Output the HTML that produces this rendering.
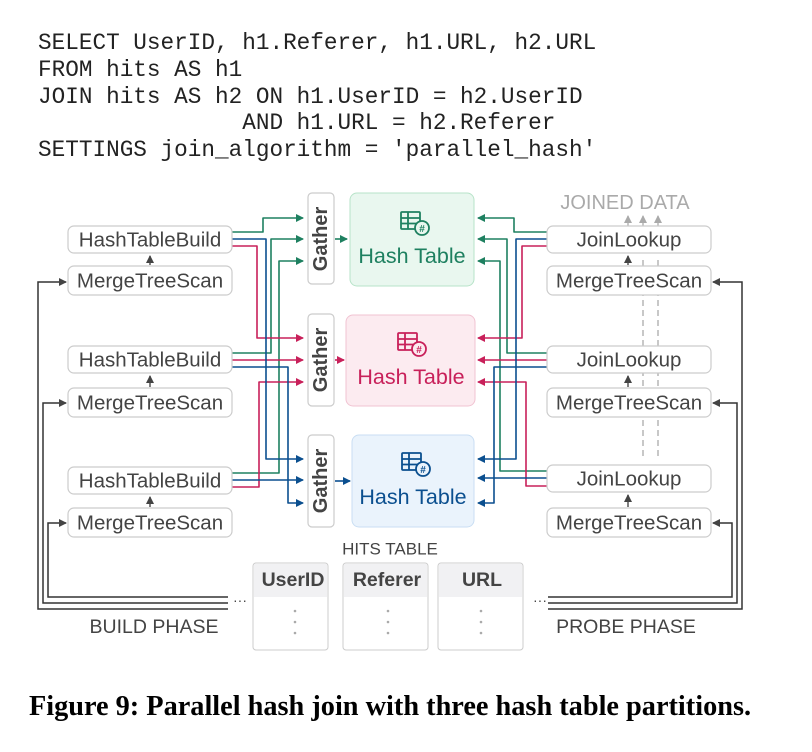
<!DOCTYPE html>
<html><head><meta charset="utf-8"><style>
body{margin:0;background:#fff;width:812px;height:752px;overflow:hidden}
svg{display:block}
.code{font-family:"Liberation Mono",monospace;font-size:22.7px;fill:#222;white-space:pre}
.lb{font-family:"Liberation Sans",sans-serif;font-size:20.5px;fill:#444;text-anchor:middle;dominant-baseline:central}
.box{fill:#fff;stroke:#ccc;stroke-width:1.2}
</style></head><body>
<svg width="812" height="752" viewBox="0 0 812 752" xmlns="http://www.w3.org/2000/svg" xml:space="preserve">
<defs>
<marker id="ag" markerWidth="8" markerHeight="8" refX="7" refY="4" orient="auto" markerUnits="userSpaceOnUse"><path d="M0,0L8,4L0,8z" fill="#1e8060"/></marker>
<marker id="ap" markerWidth="8" markerHeight="8" refX="7" refY="4" orient="auto" markerUnits="userSpaceOnUse"><path d="M0,0L8,4L0,8z" fill="#c8205a"/></marker>
<marker id="ab" markerWidth="8" markerHeight="8" refX="7" refY="4" orient="auto" markerUnits="userSpaceOnUse"><path d="M0,0L8,4L0,8z" fill="#0b4f8f"/></marker>
<marker id="ak" markerWidth="8" markerHeight="8" refX="7" refY="4" orient="auto" markerUnits="userSpaceOnUse"><path d="M0,0L8,4L0,8z" fill="#444"/></marker>
<marker id="ay" markerWidth="8" markerHeight="8" refX="7" refY="4" orient="auto" markerUnits="userSpaceOnUse"><path d="M0,0L8,4L0,8z" fill="#aaa"/></marker>
</defs>
<text class="code" x="38" y="49">SELECT UserID, h1.Referer, h1.URL, h2.URL</text>
<text class="code" x="38" y="76">FROM hits AS h1</text>
<text class="code" x="38" y="103">JOIN hits AS h2 ON h1.UserID = h2.UserID</text>
<text class="code" x="38" y="129">               AND h1.URL = h2.Referer</text>
<text class="code" x="38" y="156">SETTINGS join_algorithm = 'parallel_hash'</text>

<g stroke="#aaa" stroke-width="1.3" fill="none">
<line x1="643" y1="260" x2="643" y2="460" stroke-dasharray="6,4"/>
<line x1="658" y1="260" x2="658" y2="460" stroke-dasharray="6,4"/>
<line x1="628" y1="226" x2="628" y2="216" marker-end="url(#ay)"/>
<line x1="643" y1="226" x2="643" y2="216" marker-end="url(#ay)"/>
<line x1="658" y1="226" x2="658" y2="216" marker-end="url(#ay)"/>
</g>
<text class="lb" x="625" y="203" style="fill:#aaa;font-size:20px">JOINED DATA</text>

<g fill="none" stroke-width="1.6" stroke-linejoin="round">
<path d="M232,232H263V218H303" stroke="#1e8060" marker-end="url(#ag)"/>
<path d="M232,353H271V239H303" stroke="#1e8060" marker-end="url(#ag)"/>
<path d="M232,473H279V261H303" stroke="#1e8060" marker-end="url(#ag)"/>
<path d="M232,246H257V338H303" stroke="#c8205a" marker-end="url(#ap)"/>
<path d="M232,360H303" stroke="#c8205a" marker-end="url(#ap)"/>
<path d="M232,487H259V382H303" stroke="#c8205a" marker-end="url(#ap)"/>
<path d="M232,239H266V459H303" stroke="#0b4f8f" marker-end="url(#ab)"/>
<path d="M232,367H288V503H303" stroke="#0b4f8f" marker-end="url(#ab)"/>
<path d="M232,480H303" stroke="#0b4f8f" marker-end="url(#ab)"/>
<path d="M547,232H514V218H478" stroke="#1e8060" marker-end="url(#ag)"/>
<path d="M547,353H507V239H478" stroke="#1e8060" marker-end="url(#ag)"/>
<path d="M547,471H500V261H478" stroke="#1e8060" marker-end="url(#ag)"/>
<path d="M547,246H522V338H478" stroke="#c8205a" marker-end="url(#ap)"/>
<path d="M547,360H478" stroke="#c8205a" marker-end="url(#ap)"/>
<path d="M547,486H526V382H478" stroke="#c8205a" marker-end="url(#ap)"/>
<path d="M547,239H516V459H478" stroke="#0b4f8f" marker-end="url(#ab)"/>
<path d="M547,367H494V503H478" stroke="#0b4f8f" marker-end="url(#ab)"/>
<path d="M547,478H478" stroke="#0b4f8f" marker-end="url(#ab)"/>
<path d="M335,239H347" stroke="#1e8060" marker-end="url(#ag)"/>
<path d="M335,360H344" stroke="#c8205a" marker-end="url(#ap)"/>
<path d="M335,481H350" stroke="#0b4f8f" marker-end="url(#ab)"/>
</g>

<g fill="none" stroke="#333" stroke-width="1.5">
<path d="M228,609H38V282H66" marker-end="url(#ak)"/>
<path d="M228,603H43V403H66" marker-end="url(#ak)"/>
<path d="M228,597H48V523H66" marker-end="url(#ak)"/>
<path d="M548,597H732V523H713" marker-end="url(#ak)"/>
<path d="M548,603H737V403H713" marker-end="url(#ak)"/>
<path d="M548,609H742V282H713" marker-end="url(#ak)"/>
</g>
<text class="lb" x="240" y="600" style="font-size:14px">···</text>
<text class="lb" x="540" y="600" style="font-size:14px">···</text>

<g stroke="#555" stroke-width="1.5" fill="none">
<line x1="150" y1="265" x2="150" y2="256" marker-end="url(#ak)"/>
<line x1="150" y1="387" x2="150" y2="376" marker-end="url(#ak)"/>
<line x1="150" y1="507" x2="150" y2="497" marker-end="url(#ak)"/>
<line x1="628" y1="265" x2="628" y2="256" marker-end="url(#ak)"/>
<line x1="628" y1="387" x2="628" y2="376" marker-end="url(#ak)"/>
<line x1="628" y1="507" x2="628" y2="495" marker-end="url(#ak)"/>
</g>

<g>
<rect class="box" x="68" y="226" width="164" height="27" rx="6"/><text class="lb" x="150" y="240">HashTableBuild</text>
<rect class="box" x="68" y="266" width="164" height="29" rx="6"/><text class="lb" x="150" y="281">MergeTreeScan</text>
<rect class="box" x="68" y="346" width="164" height="27" rx="6"/><text class="lb" x="150" y="360">HashTableBuild</text>
<rect class="box" x="68" y="388" width="164" height="29" rx="6"/><text class="lb" x="150" y="403">MergeTreeScan</text>
<rect class="box" x="68" y="467" width="164" height="27" rx="6"/><text class="lb" x="150" y="481">HashTableBuild</text>
<rect class="box" x="68" y="508" width="164" height="29" rx="6"/><text class="lb" x="150" y="523">MergeTreeScan</text>
<rect class="box" x="547" y="226" width="164" height="27" rx="6"/><text class="lb" x="629" y="240">JoinLookup</text>
<rect class="box" x="547" y="266" width="164" height="29" rx="6"/><text class="lb" x="629" y="281">MergeTreeScan</text>
<rect class="box" x="547" y="346" width="164" height="27" rx="6"/><text class="lb" x="629" y="360">JoinLookup</text>
<rect class="box" x="547" y="388" width="164" height="29" rx="6"/><text class="lb" x="629" y="403">MergeTreeScan</text>
<rect class="box" x="547" y="465" width="164" height="27" rx="6"/><text class="lb" x="629" y="479">JoinLookup</text>
<rect class="box" x="547" y="508" width="164" height="29" rx="6"/><text class="lb" x="629" y="523">MergeTreeScan</text>
</g>

<g>
<rect class="box" x="308" y="193" width="26" height="91" rx="4"/>
<text class="lb" transform="translate(321,239) rotate(-90)" style="font-weight:bold;font-size:20px">Gather</text>
<rect class="box" x="308" y="314" width="26" height="92" rx="4"/>
<text class="lb" transform="translate(321,360) rotate(-90)" style="font-weight:bold;font-size:20px">Gather</text>
<rect class="box" x="308" y="435" width="26" height="92" rx="4"/>
<text class="lb" transform="translate(321,481) rotate(-90)" style="font-weight:bold;font-size:20px">Gather</text>
</g>

<g>
<rect x="350" y="193" width="124" height="93" rx="7" fill="#e9f7ef" stroke="#b7e3c8"/>
<rect x="346" y="315" width="129" height="91" rx="7" fill="#fcebf0" stroke="#f1c3d2"/>
<rect x="352" y="435" width="122" height="92" rx="7" fill="#eaf3fc" stroke="#c9def3"/>
</g>
<g fill="none" stroke-width="1.8">
<g stroke="#1e8060" transform="translate(401,212)"><rect x="0" y="0" width="19" height="17" rx="1"/><line x1="0" y1="6" x2="19" y2="6"/><line x1="0" y1="11.5" x2="19" y2="11.5"/><line x1="7" y1="0" x2="7" y2="17"/><circle cx="21" cy="16" r="7" fill="#e9f7ef"/></g>
<g stroke="#c8205a" transform="translate(398,333)"><rect x="0" y="0" width="19" height="17" rx="1"/><line x1="0" y1="6" x2="19" y2="6"/><line x1="0" y1="11.5" x2="19" y2="11.5"/><line x1="7" y1="0" x2="7" y2="17"/><circle cx="21" cy="16" r="7" fill="#fcebf0"/></g>
<g stroke="#0b4f8f" transform="translate(402,453)"><rect x="0" y="0" width="19" height="17" rx="1"/><line x1="0" y1="6" x2="19" y2="6"/><line x1="0" y1="11.5" x2="19" y2="11.5"/><line x1="7" y1="0" x2="7" y2="17"/><circle cx="21" cy="16" r="7" fill="#eaf3fc"/></g>
</g>
<g style="font-family:'Liberation Sans',sans-serif;font-size:10px;font-weight:bold;text-anchor:middle">
<text x="422" y="232" fill="#1e8060">#</text><text x="419" y="353" fill="#c8205a">#</text><text x="423" y="473" fill="#0b4f8f">#</text>
</g>
<text class="lb" x="412" y="256" style="fill:#1e8060;font-size:21.5px">Hash Table</text>
<text class="lb" x="411" y="377" style="fill:#c8205a;font-size:21.5px">Hash Table</text>
<text class="lb" x="413" y="497" style="fill:#0b4f8f;font-size:21.5px">Hash Table</text>

<text class="lb" x="390" y="549" style="font-size:17px">HITS TABLE</text>
<g>
<rect x="253" y="563" width="75" height="87" rx="3" fill="#fff" stroke="#ccc"/>
<rect x="343" y="563" width="85" height="87" rx="3" fill="#fff" stroke="#ccc"/>
<rect x="438" y="563" width="85" height="87" rx="3" fill="#fff" stroke="#ccc"/>
<rect x="254" y="564" width="73" height="33" fill="#f1f1f3"/>
<rect x="344" y="564" width="83" height="33" fill="#f1f1f3"/>
<rect x="439" y="564" width="83" height="33" fill="#f1f1f3"/>
</g>
<text class="lb" x="293" y="580" style="font-weight:bold;font-size:19.5px">UserID</text>
<text class="lb" x="387" y="580" style="font-weight:bold;font-size:19.5px">Referer</text>
<text class="lb" x="482" y="580" style="font-weight:bold;font-size:19.5px">URL</text>
<g fill="#aaa"><circle cx="295" cy="611" r="1.3"/><circle cx="295" cy="622" r="1.3"/><circle cx="295" cy="633" r="1.3"/>
<circle cx="388" cy="611" r="1.3"/><circle cx="388" cy="622" r="1.3"/><circle cx="388" cy="633" r="1.3"/>
<circle cx="481" cy="611" r="1.3"/><circle cx="481" cy="622" r="1.3"/><circle cx="481" cy="633" r="1.3"/></g>
<text class="lb" x="154" y="627" style="font-size:19.5px">BUILD PHASE</text>
<text class="lb" x="626" y="627" style="font-size:19.5px">PROBE PHASE</text>

<text x="390" y="715" text-anchor="middle" style="font-family:'Liberation Serif',serif;font-weight:bold;font-size:28.3px;fill:#000">Figure 9: Parallel hash join with three hash table partitions.</text>
</svg>
</body></html>
